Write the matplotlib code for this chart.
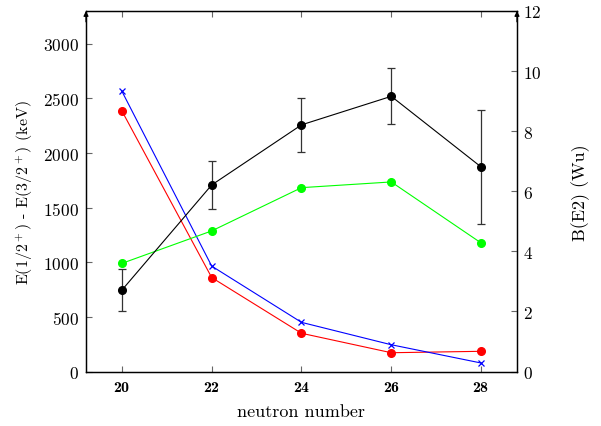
import matplotlib
matplotlib.use("Agg")
import matplotlib.pyplot as plt

plt.rcParams['font.family'] = ['cmr10', 'DejaVu Serif']
plt.rcParams['mathtext.fontset'] = 'cm'
plt.rcParams['axes.formatter.use_mathtext'] = True

# data
neutrons = [20, 22, 24, 26, 28]
e_diff_red = [2385, 860, 350, 172, 185]
e_diff_blue = [2565, 965, 450, 245, 78]
be2_exp = [2.71, 6.21, 8.21, 9.16, 6.81]
be2_err = [0.70, 0.80, 0.90, 0.93, 1.90]
be2_green = [3.6, 4.68, 6.12, 6.31, 4.28]

fig = plt.figure(figsize=(6.01, 4.27), dpi=100)
ax = fig.add_axes([0.1431, 0.1276, 0.8602 - 0.1431, 0.9719 - 0.1276])
ax2 = ax.twinx()

ax.plot(neutrons, e_diff_red, color='red', marker='o', markersize=5.5, lw=0.8)
ax.plot(neutrons, e_diff_blue, color='blue', marker='x', markersize=4, mew=0.9, lw=0.8)

ax2.errorbar(neutrons, be2_exp, yerr=be2_err, color='black', marker='o',
             markersize=5.5, lw=0.8, ecolor='#333333', elinewidth=0.9,
             capsize=3, capthick=0.9)
ax2.plot(neutrons, be2_green, color='#00ff00', marker='o', markersize=5.5, lw=0.8)

ax.set_xlim(19.2, 28.8)
ax.set_ylim(0, 3300)
ax2.set_ylim(0, 12)
ax.set_xticks(neutrons)
ax.set_yticks([0, 500, 1000, 1500, 2000, 2500, 3000])
ax2.set_yticks([0, 2, 4, 6, 8, 10, 12])

ax.tick_params(axis='x', direction='in', top=True, length=4, color='#666666',
               labelsize=11.5, pad=6)
ax.tick_params(axis='y', direction='in', length=4, color='#666666', labelsize=12.5, pad=5)
ax2.tick_params(axis='y', direction='in', length=4, color='#666666', labelsize=12.5, pad=4)
for lab in ax.get_xticklabels():
    lab.set_fontfamily('cmb10')

ax.set_xlabel('neutron number', fontsize=13, labelpad=7)
ax.set_ylabel(r'E(1/2$^+$) - E(3/2$^+$) (keV)', fontsize=11.5, labelpad=6)
ax2.set_ylabel('B(E2) (Wu)', fontsize=13, labelpad=22)

for sp in list(ax.spines.values()) + list(ax2.spines.values()):
    sp.set_linewidth(0.9)

# arrow tips on top of the vertical axes
for xa in (0, 1):
    ax.annotate('', xy=(xa, 1.0), xytext=(xa, 0.97), xycoords='axes fraction',
                arrowprops=dict(arrowstyle='-|>', lw=0.9, color='black',
                                mutation_scale=7, shrinkA=0, shrinkB=0))

plt.savefig('out.png', dpi=100)
